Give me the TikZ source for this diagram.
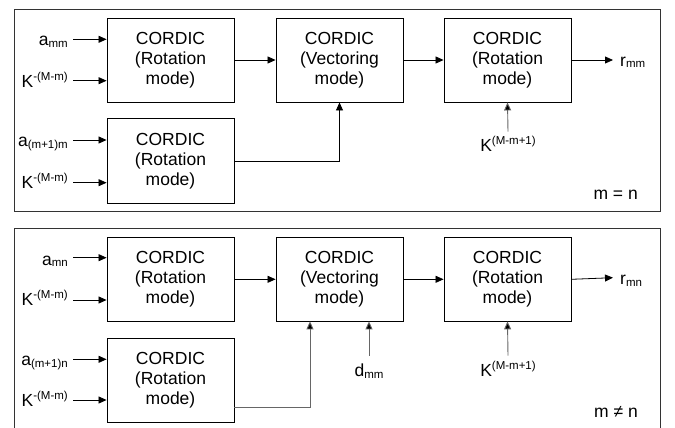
\documentclass[tikz,border=0pt]{standalone}
\usepackage{fontspec}
\setmainfont{Liberation Sans}
\usetikzlibrary{arrows.meta}
\newcommand\lsub[1]{\raisebox{-1.5pt}{\fontsize{11.5}{11.5}\selectfont #1}}
\newcommand\lsup[1]{\raisebox{7pt}{\fontsize{11.5}{11.5}\selectfont #1}}
\begin{document}
\begin{tikzpicture}[x=1pt,y=-1pt,
  blk/.style={draw=black,line width=0.9pt,minimum width=127pt,inner sep=0pt,
    align=center,font=\fontsize{17.5}{20}\selectfont},
  lbl/.style={inner sep=0pt,font=\fontsize{17.5}{20}\selectfont},
  frame/.style={draw=black!80,line width=0.9pt},
  arr/.style={draw=black,line width=0.8pt,-{Triangle[length=8pt,width=7pt]}},
  garr/.style={draw=black!60,line width=0.9pt,-{Triangle[length=8pt,width=7pt,fill=black]}}]
\useasboundingbox (0,0) rectangle (675,428);

% ---------- panel m = n ----------
\draw[frame] (14.7,9.3) rectangle (660,211.7);
\node[blk,minimum height=84pt] (A) at (170.5,60) {CORDIC\\(Rotation\\mode)};
\node[blk,minimum height=84pt] (B) at (339.5,60) {CORDIC\\(Vectoring\\mode)};
\node[blk,minimum height=84pt] (C) at (507.5,60) {CORDIC\\(Rotation\\mode)};
\node[blk,minimum height=84.6pt] (D) at (170.5,161) {CORDIC\\(Rotation\\mode)};

\node[lbl,anchor=base east] (la1) at (68,46) {a\lsub{mm}};
\node[lbl,anchor=base east] (lk1) at (68,87.3) {K\lsup{-(M-m)}};
\node[lbl,anchor=base east] (la2) at (68,146.7) {a\lsub{(m+1)m}};
\node[lbl,anchor=base east] (lk2) at (68,188.3) {K\lsup{-(M-m)}};
\node[lbl,anchor=base west] (lr1) at (620,66.5) {r\lsub{mm}};
\node[lbl,anchor=base] (lkc1) at (508,151) {K\lsup{(M-m+1)}};
\node[lbl,anchor=base east] (eq1) at (638,199) {m = n};

\coordinate (ia1) at (73,39.3);
\coordinate (ik1) at (73,80.7);
\coordinate (ia2) at (73,140);
\coordinate (ik2) at (73,182.7);
\coordinate (or1) at (613,60);
\coordinate (ic1) at (508,131.7);

\draw[arr] (ia1) -- (ia1 -| A.west);
\draw[arr] (ik1) -- (ik1 -| A.west);
\draw[arr] (ia2) -- (ia2 -| D.west);
\draw[arr] (ik2) -- (ik2 -| D.west);
\draw[arr] (A.east) -- (B.west);
\draw[arr] (B.east) -- (C.west);
\draw[arr] (C.east) -- (or1);
\draw[arr] (D.east) -| (B.south);
\draw[garr] (ic1) -- (C.south);

% ---------- panel m != n ----------
\draw[frame] (14.7,228.3) rectangle (660,432);
\node[blk,minimum height=83.3pt] (A2) at (170.5,279.3) {CORDIC\\(Rotation\\mode)};
\node[blk,minimum height=83.3pt] (B2) at (339.5,279.3) {CORDIC\\(Vectoring\\mode)};
\node[blk,minimum height=83.3pt] (C2) at (507.5,279.3) {CORDIC\\(Rotation\\mode)};
\node[blk,minimum height=84pt] (D2) at (170.5,380.3) {CORDIC\\(Rotation\\mode)};

\node[lbl,anchor=base east] (lb1) at (68,265) {a\lsub{mn}};
\node[lbl,anchor=base east] (lk3) at (68,305) {K\lsup{-(M-m)}};
\node[lbl,anchor=base east] (lb2) at (68,365.7) {a\lsub{(m+1)n}};
\node[lbl,anchor=base east] (lk4) at (68,406.7) {K\lsup{-(M-m)}};
\node[lbl,anchor=base west] (lr2) at (620,284.5) {r\lsub{mn}};
\node[lbl,anchor=base] (lkc2) at (508,376.7) {K\lsup{(M-m+1)}};
\node[lbl,anchor=base] (ld) at (369,376.7) {d\lsub{mm}};
\node[lbl,anchor=base east] (eq2) at (638,417.3) {m \char"2260{} n};

\coordinate (ib1) at (73,257.7);
\coordinate (ik3) at (73,300);
\coordinate (ib2) at (73,359.3);
\coordinate (ik4) at (73,400);
\coordinate (or2) at (613,277.7);
\coordinate (ic2) at (508,355.7);
\coordinate (id) at (369,355.7);

\draw[arr] (ib1) -- (ib1 -| A2.west);
\draw[arr] (ik3) -- (ik3 -| A2.west);
\draw[arr] (ib2) -- (ib2 -| D2.west);
\draw[arr] (ik4) -- (ik4 -| D2.west);
\draw[arr] (A2.east) -- (B2.west);
\draw[arr] (B2.east) -- (C2.west);
\draw[arr] (C2.east) -- (or2);
\draw[garr] ([yshift=15.6pt]D2.south east) -| ([xshift=-29.5pt]B2.south);
\draw[garr] (id) -- ([xshift=29.5pt]B2.south);
\draw[garr] (ic2) -- (C2.south);
\end{tikzpicture}
\end{document}
